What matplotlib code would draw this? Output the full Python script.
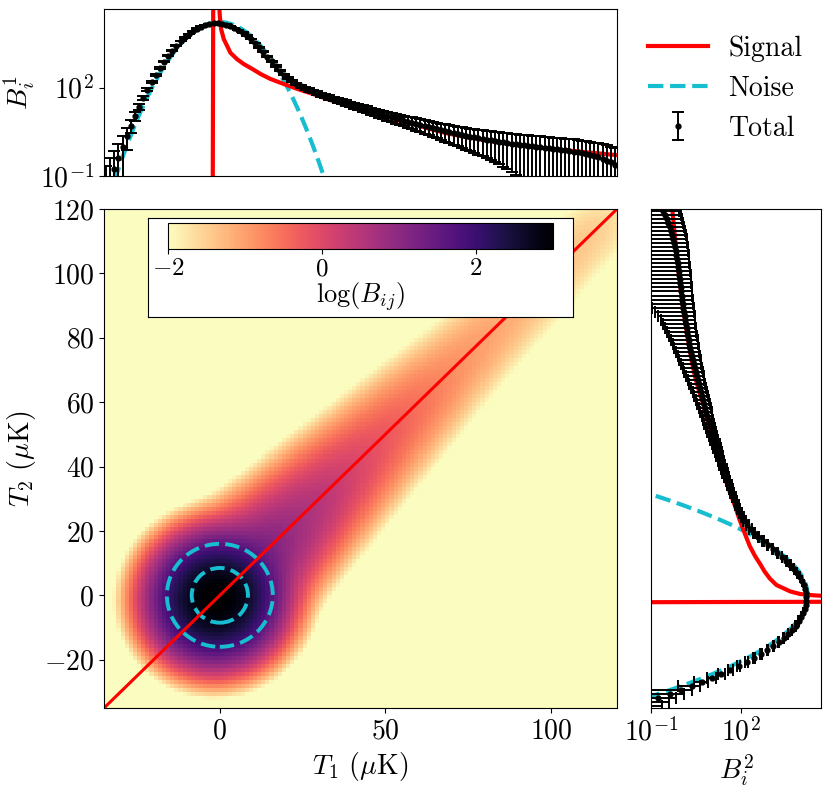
import numpy as np
import matplotlib
matplotlib.use("Agg")
import matplotlib.pyplot as plt
from matplotlib.patches import Circle
from matplotlib.ticker import NullLocator

plt.rcParams.update({
    "font.family": "serif",
    "font.serif": ["cmr10", "DejaVu Serif"],
    "mathtext.fontset": "cm",
    "axes.formatter.use_mathtext": True,
    "font.size": 20,
    "axes.unicode_minus": True,
})

# ---------------- data ----------------
# Signal-only histogram (red curve): temperature (muK) and counts per bin
sig_T = [-2.2, -2.0, -0.3, 0.0, 0.4, 1.2, 2.2, 3.2, 5.2, 7.3, 9.8, 12.3, 15.3,
         19.3, 23.5, 28.2, 33.0, 38.3, 43.0, 48.3, 53.0, 58.4, 63.0, 68.5,
         74.0, 80.0, 90.0, 100.0, 110.0, 120.0]
sig_B = [1e-4, 9.0e4, 9.0e4, 26300, 9330, 4370, 2570, 1510, 912, 617, 427,
         288, 195, 132, 89.0, 60.3, 38.9, 24.5, 16.2, 11.2, 8.1, 5.89, 4.1,
         2.82, 2.14, 1.66, 1.12, 0.83, 0.65, 0.51]

# Noise-only histogram (cyan dashed curve)
noise_T = [-34, -32, -30, -28, -26, -24, -22, -20, -18, -16, -14, -12, -10, -8,
           -6, -4, -2, 0, 2, 4, 6, 8, 10, 12, 14, 16, 18, 20, 22, 24, 26, 28,
           30, 32, 34]
noise_B = [0.0124, 0.062, 0.281, 1.16, 4.32, 14.7, 45.1, 126, 318, 729, 1517,
           2864, 4900, 7600, 10690, 13650, 15800, 16600, 15800, 13650, 10690,
           7600, 4900, 2864, 1517, 729, 318, 126, 45.1, 14.7, 4.32, 1.16,
           0.281, 0.062, 0.0124]

# Radii of the dashed noise contours in the 2D panel (muK)
circle_r = [8.5, 16.0]

# Histogram binning (muK) and colour range of log10(B_ij)
T_lo, T_hi, n_bins = -35.0, 120.0, 124
c_lo, c_hi = -2, 3
cbar_ticks = [-2, 0, 2]
marg_lim = (0.1, 4.6e4)
marg_ticks = [1e-1, 1e2]
main_xticks = [0, 50, 100]
main_yticks = [-20, 0, 20, 40, 60, 80, 100, 120]
err_up_factor, err_lo_factor = 1.3, 1.0

# ---------------- build the 2D histogram from the two components ----------------
edges = np.linspace(T_lo, T_hi, n_bins + 1)
cen = 0.5 * (edges[1:] + edges[:-1])
w = edges[1] - edges[0]

logS = np.interp(cen, sig_T, np.log10(sig_B), left=-np.inf, right=np.log10(sig_B[-1]))
S = np.where(np.isfinite(logS), 10.0 ** logS, 0.0)

nT = np.asarray(noise_T, float)
nlog = np.log10(noise_B)
def kern(d):
    return np.where(np.abs(d) <= nT.max(), 10.0 ** np.interp(d, nT, nlog), 0.0)
offs = np.arange(-int(nT.max() / w) - 1, int(nT.max() / w) + 2) * w
norm = kern(offs).sum()
K = kern(cen[:, None] - cen[None, :]) / norm      # K[i, k]

B2d = (K * S[None, :]) @ K.T                       # B2d[i(T1), j(T2)]
tot1 = B2d.sum(axis=1)
tot2 = B2d.sum(axis=0)
logB = np.log10(np.maximum(B2d, 1e-30))

def errs(n):
    lo = np.minimum(err_lo_factor * np.sqrt(n), n * 0.9999)
    hi = err_up_factor * np.sqrt(n)
    return [lo, hi]

# ---------------- figure ----------------
W, H = 831, 787
fig = plt.figure(figsize=(W / 100, H / 100), dpi=100)

def px_axes(x0, y0, x1, y1, **kw):
    return fig.add_axes([x0 / W, 1 - y1 / H, (x1 - x0) / W, (y1 - y0) / H], **kw)

ax = px_axes(104, 209, 617, 708)
axt = px_axes(104, 9, 617, 176)
axr = px_axes(651, 209, 821, 708)

cmap = plt.get_cmap("magma_r")
im = ax.imshow(logB.T, origin="lower", extent=[T_lo, T_hi, T_lo, T_hi],
               cmap=cmap, vmin=c_lo, vmax=c_hi, aspect="auto",
               interpolation="nearest")
ax.plot([T_lo, T_hi], [T_lo, T_hi], color="red", lw=2.2)
for r in circle_r:
    ax.add_patch(Circle((0, 0), r, fill=False, ls="--", lw=2.8,
                        edgecolor="#17becf"))
ax.set_xlim(T_lo, T_hi)
ax.set_ylim(T_lo, T_hi)
ax.set_xticks(main_xticks)
ax.set_yticks(main_yticks)
ax.set_xlabel(r"$T_1$ ($\mu$K)", labelpad=4)
ax.set_ylabel(r"$T_2$ ($\mu$K)", labelpad=4)

# top marginal
l_noise, = axt.plot(noise_T, noise_B, ls="--", color="#17becf", lw=3, label="Noise")
l_sig, = axt.plot(sig_T, sig_B, color="red", lw=3, label="Signal")
m = tot1 > 0
eb = axt.errorbar(cen[m], tot1[m], yerr=[e[m] for e in errs(tot1)], fmt="o",
                  color="k", ms=3.5, capsize=4, elinewidth=1.4, capthick=1.4,
                  zorder=3, label="Total")
axt.set_yscale("log")
axt.set_xlim(T_lo, T_hi)
axt.set_ylim(*marg_lim)
axt.set_yticks(marg_ticks)
axt.yaxis.set_minor_locator(NullLocator())
axt.set_xticks([])
axt.set_ylabel(r"$B_i^1$", labelpad=2)

# right marginal
axr.plot(noise_B, noise_T, ls="--", color="#17becf", lw=3)
axr.plot(sig_B, sig_T, color="red", lw=3)
m2 = tot2 > 0
axr.errorbar(tot2[m2], cen[m2], xerr=[e[m2] for e in errs(tot2)], fmt="o",
             color="k", ms=3.5, capsize=4, elinewidth=1.4, capthick=1.4, zorder=3)
axr.set_xscale("log")
axr.set_ylim(T_lo, T_hi)
axr.set_xlim(*marg_lim)
axr.set_xticks(marg_ticks)
axr.xaxis.set_minor_locator(NullLocator())
axr.set_yticks([])
axr.set_xlabel(r"$B_i^2$", labelpad=4)

# colorbar inset with white box
box = px_axes(148, 218, 573, 317)
box.set_xticks([]); box.set_yticks([])
box.set_facecolor("white")
cax = px_axes(168, 222.5, 553, 248.5)
cb = fig.colorbar(im, cax=cax, orientation="horizontal", ticks=cbar_ticks)
cb.ax.tick_params(labelsize=18)
cb.set_label(r"$\log(B_{ij})$", fontsize=19, labelpad=0)

# legend
fig.legend(handles=[l_sig, l_noise, eb], labels=["Signal", "Noise", "Total"],
           loc="upper left", bbox_to_anchor=(648 / W, 1 - 35 / H),
           frameon=False, fontsize=20, handlelength=2.15, handletextpad=0.75,
           labelspacing=0.5, borderpad=0, borderaxespad=0)

fig.savefig("out.png", dpi=100)
